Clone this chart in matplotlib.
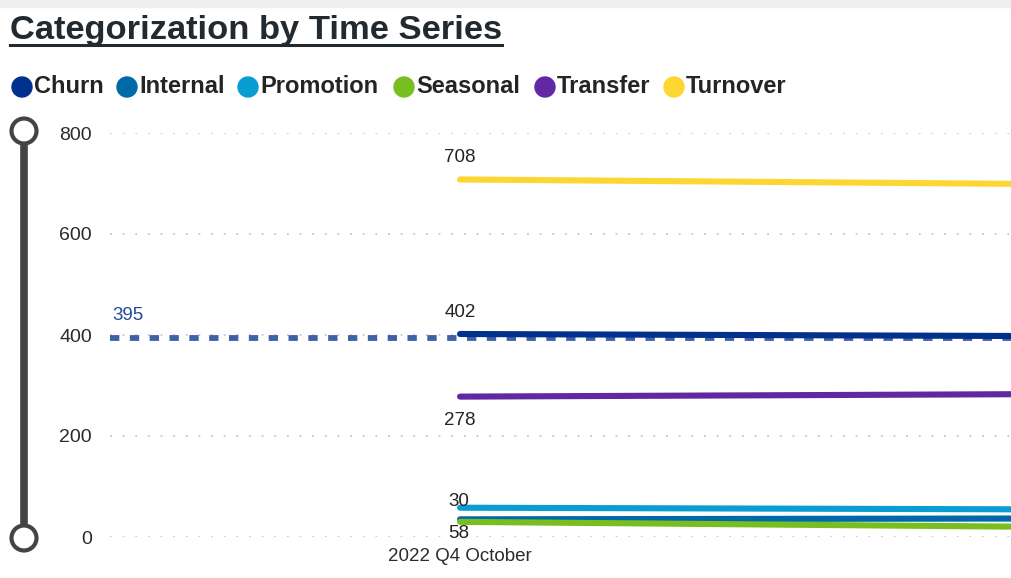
import matplotlib.pyplot as plt
from matplotlib.lines import Line2D
from matplotlib.patches import Circle, Rectangle

# data (second period is cut off on the right)
periods = ["2022 Q4 October", "next"]
series = ["Churn", "Internal", "Promotion", "Seasonal", "Transfer", "Turnover"]
churn = [402, 397]
internal = [35, 37]
promotion = [58, 54]
seasonal = [30, 18]
transfer = [278, 284]
turnover = [708, 697]
average_churn = 395
y_ticks = [0, 200, 400, 600, 800]

colors = {"Churn": "#01318c", "Internal": "#0069a8", "Promotion": "#0a9dd3",
          "Seasonal": "#78be20", "Transfer": "#6227a3", "Turnover": "#fdd631"}
values = {"Churn": churn, "Internal": internal, "Promotion": promotion,
          "Seasonal": seasonal, "Transfer": transfer, "Turnover": turnover}

plt.rcParams['font.family'] = ['Liberation Sans', 'DejaVu Sans']

W, H = 1011, 578
fig = plt.figure(figsize=(W / 100, H / 100), dpi=100)

def fx(px):
    return px / W

def fy(py):
    return 1 - py / H

# top shadow strip
fig.patches.append(Rectangle((0, fy(7)), 1, 7 / H, transform=fig.transFigure,
                             color="#eeeeee", zorder=0))

ax = fig.add_axes([fx(110), fy(537), 1 - fx(110), fy(133) - fy(537)])
x = list(range(len(periods)))

# order drawn so overlapping low lines look like the original
for name in ["Turnover", "Transfer", "Churn", "Promotion", "Internal", "Seasonal"]:
    ax.plot(x, values[name], color=colors[name], lw=4.4, solid_capstyle='round', zorder=3)

ax.axhline(average_churn, color="#3e62a8", lw=4.2, ls=(0, (1.6, 1.8)), zorder=2)
ax.annotate(str(average_churn), xy=(0, average_churn), xycoords=('axes fraction', 'data'),
            xytext=(2, 10), textcoords='offset points', color="#1f4a9c", fontsize=13.5,
            ha='left', va='bottom')

# data labels
lbl = dict(textcoords='offset points', ha='center', fontsize=13.5, color="#252423")
ax.annotate(str(turnover[0]), (0, turnover[0]), xytext=(0, 10), va='bottom', **lbl)
ax.annotate(str(churn[0]), (0, churn[0]), xytext=(0, 9), va='bottom', **lbl)
ax.annotate(str(transfer[0]), (0, transfer[0]), xytext=(0, -11), va='top', **lbl)
ax.annotate(str(seasonal[0]), (0, promotion[0]), xytext=(-1, -1.5), va='bottom', **lbl)
ax.annotate(str(promotion[0]), (0, seasonal[0]), xytext=(-1, -2.5), va='top', **lbl)

ax.set_xlim(-0.5, 0.787)
ax.set_ylim(0, 800)
ax.set_yticks(y_ticks)
ax.set_xticks([0])
ax.set_xticklabels([periods[0]])
ax.tick_params(axis='both', length=0, colors="#2b2b2b")
ax.tick_params(axis='y', pad=13, labelsize=14)
ax.tick_params(axis='x', pad=8, labelsize=13.5)
ax.grid(axis='y', color="#c8c8c8", ls=(0, (1, 6)), lw=1.3)
ax.set_axisbelow(True)
for s in ax.spines.values():
    s.set_visible(False)

# title
title = fig.text(fx(10), fy(30), "Categorization by Time Series", fontsize=24.8,
                 fontweight='bold', color="#222a30", va='center', ha='left')
fig.canvas.draw()
bb = title.get_window_extent()
fig.lines.append(Line2D([bb.x0 / W, bb.x1 / W], [fy(45), fy(45)],
                        transform=fig.transFigure, color="#222a30", lw=2.2))

# legend
legend_pos = [22, 127, 248, 404, 545, 674]
for name, px in zip(series, legend_pos):
    fig.patches.append(Circle((px / 100, (H - 87) / 100), 0.10,
                              transform=fig.dpi_scale_trans, color=colors[name]))
    fig.text(fx(px + 12), fy(86), name, fontsize=17, fontweight='bold',
             color="#252423", va='center', ha='left')

# zoom slider on the left
fig.lines.append(Line2D([fx(24), fx(24)], [fy(131), fy(538)], transform=fig.transFigure,
                        color="#444444", lw=5.5, zorder=1))
for py in [131, 538]:
    c = Circle((24 / 100, (H - py) / 100), 0.125, transform=fig.dpi_scale_trans,
               facecolor='white', edgecolor="#444444", lw=3, zorder=2)
    fig.patches.append(c)

fig.savefig("out.png", dpi=100)
